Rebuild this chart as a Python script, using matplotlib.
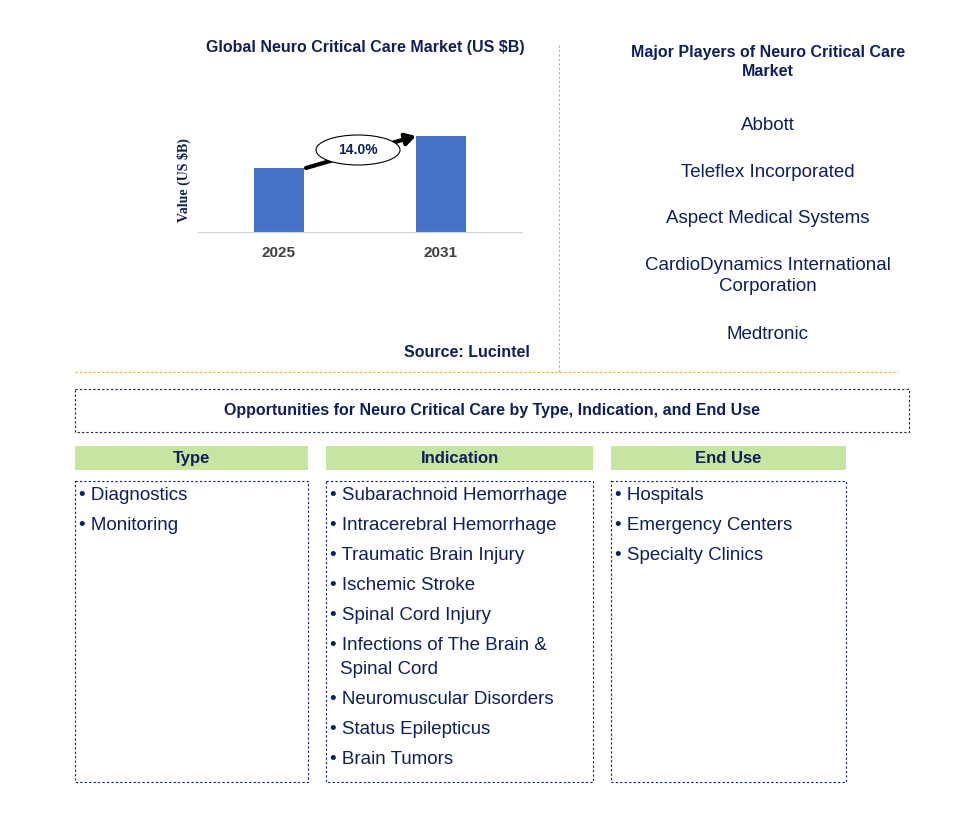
import matplotlib
matplotlib.use('Agg')
import matplotlib.pyplot as plt
from matplotlib.patches import Ellipse, Rectangle

years = ['2025', '2031']
values = [1.0, 1.5]
cagr_label = '14.0%'
players = ['Abbott', 'Teleflex Incorporated', 'Aspect Medical Systems',
           'CardioDynamics International\nCorporation', 'Medtronic']
type_items = ['Diagnostics', 'Monitoring']
indication_items = ['Subarachnoid Hemorrhage', 'Intracerebral Hemorrhage',
                    'Traumatic Brain Injury', 'Ischemic Stroke', 'Spinal Cord Injury',
                    'Infections of The Brain &\nSpinal Cord', 'Neuromuscular Disorders',
                    'Status Epilepticus', 'Brain Tumors']
enduse_items = ['Hospitals', 'Emergency Centers', 'Specialty Clinics']

NAVY = '#0f1f5c'
W, H = 974, 823
plt.rc('font', family='Liberation Sans')
fig = plt.figure(figsize=(W/100, H/100), dpi=100)
bg = fig.add_axes([0, 0, 1, 1])
bg.set_xlim(0, W)
bg.set_ylim(H, 0)
bg.axis('off')

# bar chart
ax = fig.add_axes([198/W, 1-232/H, 324/W, 132/H])
ax.bar(range(len(years)), values, width=0.31, color='#4472c4')
ax.set_xlim(-0.5, 1.5)
ax.set_ylim(0, 2.06)
ax.set_xticks(range(len(years)))
ax.set_xticklabels(years, fontsize=11, fontweight='bold', color='#404040')
ax.tick_params(length=0, pad=10)
ax.set_yticks([])
for s in ['top', 'right', 'left']:
    ax.spines[s].set_visible(False)
ax.spines['bottom'].set_color('#d0d0d0')
ax.patch.set_alpha(0)

bg.text(365, 47, 'Global Neuro Critical Care Market (US $B)', ha='center', va='center',
        fontsize=11.5, fontweight='bold', color=NAVY)
bg.text(184, 180, 'Value (US $B)', rotation=90, ha='center', va='center',
        fontsize=10, fontweight='bold', color=NAVY, family='Liberation Serif')
bg.annotate('', xy=(416, 136), xytext=(306, 168),
            arrowprops=dict(arrowstyle='-|>,head_length=0.6,head_width=0.35', lw=3,
                            color='black', shrinkA=0, shrinkB=0), zorder=1)
bg.add_patch(Ellipse((358, 150), 84, 30, facecolor='white', edgecolor='black', lw=0.8, zorder=2))
bg.text(358, 150, cagr_label, ha='center', va='center', fontsize=10, fontweight='bold',
        color=NAVY, zorder=3)
bg.text(530, 352, 'Source: Lucintel', ha='right', va='center', fontsize=11.5,
        fontweight='bold', color=NAVY)

# separators
bg.plot([559, 559], [45, 372], color='#b0b0b0', lw=0.8, ls=(0, (2, 2)))
bg.plot([75, 898], [372, 372], color='#f0b000', lw=0.8, ls=(0, (2, 2)))

# players
bg.text(768, 62, 'Major Players of Neuro Critical Care\nMarket', ha='center', va='center',
        fontsize=11.5, fontweight='bold', color=NAVY, linespacing=1.3)
py = [125, 172, 218, 276, 334]
for name, y in zip(players, py):
    bg.text(768, y, name, ha='center', va='center', fontsize=13.5, color=NAVY, linespacing=1.35)

# opportunities box
bg.add_patch(Rectangle((75, 389), 834, 43, fill=False, edgecolor=NAVY, lw=0.8, ls=(0, (2, 2))))
bg.text(492, 410, 'Opportunities for Neuro Critical Care by Type, Indication, and End Use',
        ha='center', va='center', fontsize=11.5, fontweight='bold', color=NAVY)

cols = [(75, 308, 'Type', type_items), (326, 593, 'Indication', indication_items),
        (611, 846, 'End Use', enduse_items)]
for x0, x1, head, items in cols:
    bg.add_patch(Rectangle((x0, 446), x1-x0, 24, facecolor='#c6e5a0', edgecolor='none'))
    bg.text((x0+x1)/2, 458, head, ha='center', va='center', fontsize=12,
            fontweight='bold', color=NAVY)
    bg.add_patch(Rectangle((x0, 481), x1-x0, 301, fill=False, edgecolor=NAVY,
                           lw=0.8, ls=(0, (2, 2))))
    y = 495
    for it in items:
        lines = it.split('\n')
        bg.text(x0+4, y, '\u2022 ' + lines[0], ha='left', va='center', fontsize=13.5, color=NAVY)
        for extra in lines[1:]:
            y += 24
            bg.text(x0+14, y, extra, ha='left', va='center', fontsize=13.5, color=NAVY)
        y += 30

fig.savefig('out.png', dpi=100)
